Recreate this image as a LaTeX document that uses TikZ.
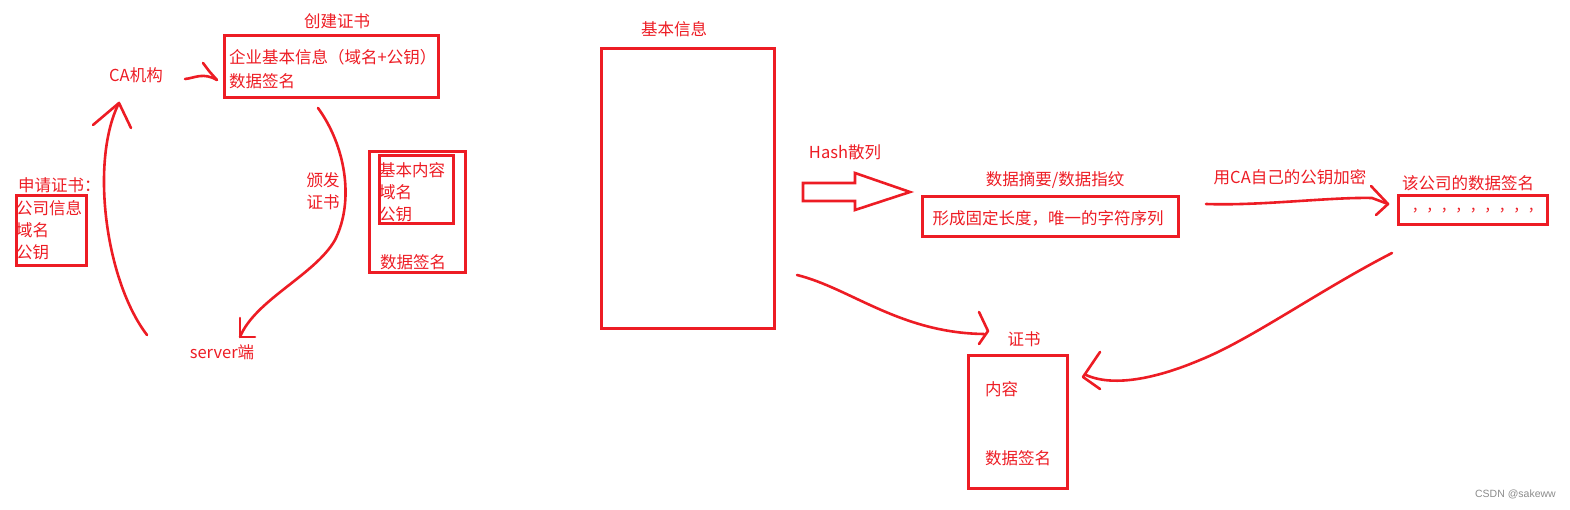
\documentclass[tikz,border=0pt]{standalone}
\usepackage{fontspec}
\setmainfont{Noto Sans CJK SC}
\newfontfamily\wmfont{Liberation Sans}
\definecolor{pred}{RGB}{237,28,36}
\begin{document}
\begin{tikzpicture}[x=1pt,y=-1pt,
  box/.style={draw=pred,line width=3pt,minimum width=#1},
  lbl/.style={text=pred,font=\fontsize{16.5}{17}\selectfont,inner sep=0pt},
  stroke/.style={draw=pred,line width=2.6pt,line cap=round,line join=round}]
\useasboundingbox (0,0) rectangle (1570,510);
% boxes
\node[box=214pt,minimum height=62pt] (b1) at (331,67) {};
\node[box=70pt,minimum height=70pt] (bl) at (51,231) {};
\node[box=96pt,minimum height=121pt] (bro) at (417,212.5) {};
\node[box=74pt,minimum height=68pt] (bri) at (416,190) {};
\node[box=173pt,minimum height=279pt] (info) at (687.5,188.5) {};
\node[box=256pt,minimum height=40pt] (dig) at (1050,217) {};
\node[box=149pt,minimum height=29pt] (sig) at (1472.5,210.5) {};
\node[box=99pt,minimum height=133pt] (cert) at (1017.5,421.5) {};
% texts
\node[lbl] (t1) at (337,21) {创建证书};
\node[lbl,anchor=west] (t2) at (229,57) {企业基本信息（域名+公钥）};
\node[lbl,anchor=west] (t3) at (229,81) {数据签名};
\node[lbl] (ca) at (136,75) {CA机构};
\node[lbl,anchor=west] (t4) at (18,185) {申请证书：};
\node[lbl,anchor=west] (t5) at (16,208) {公司信息};
\node[lbl,anchor=west] (t6) at (16,230) {域名};
\node[lbl,anchor=west] (t7) at (16,252) {公钥};
\node[lbl] (srv) at (222,352) {server端};
\node[lbl] (t8) at (323,180) {颁发};
\node[lbl] (t9) at (323,202) {证书};
\node[lbl,anchor=west] (t10) at (379,170) {基本内容};
\node[lbl,anchor=west] (t11) at (379,192) {域名};
\node[lbl,anchor=west] (t12) at (379,214) {公钥};
\node[lbl,anchor=west] (t13) at (380,262) {数据签名};
\node[lbl] (t14) at (674,29) {基本信息};
\node[lbl] (hash) at (845,152) {Hash散列};
\node[lbl] (t15) at (1055,180) {数据摘要/数据指纹};
\node[lbl] (t16) at (1048,218) {形成固定长度，唯一的字符序列};
\node[lbl] (enc) at (1290,177) {用CA自己的公钥加密};
\node[lbl] (t17) at (1468,183) {该公司的数据签名};
\node[text=pred,font=\fontsize{14.5}{15}\selectfont,inner sep=0pt] (t18) at (1477,211) {，，，，，，，，，};
\node[lbl] (t19) at (1024,339) {证书};
\node[lbl,anchor=west] (t20) at (985,389) {内容};
\node[lbl,anchor=west] (t21) at (985,458) {数据签名};
\node[text=black!45,font=\wmfont\fontsize{10.5}{11}\selectfont,anchor=east,inner sep=0pt] (wm) at (1556,494) {CSDN @sakeww};
% connector coordinates
\coordinate (a1s) at (185,79);
\coordinate (a1e) at (217,80);
\coordinate (a2s) at (147,335);
\coordinate (a2e) at (119,103);
\coordinate (a3s) at (318,108);
\coordinate (a3e) at (240,337);
\coordinate (a4s) at (1206,204);
\coordinate (a4e) at (1388,204);
\coordinate (a5s) at (797,275);
\coordinate (a5e) at (984,334);
\coordinate (a6s) at (1392,253);
\coordinate (a6e) at (1086,375);
% CA -> create
\draw[stroke] (a1s) .. controls (195,78) and (203,72) .. (a1e);
\draw[stroke] (203,63) -- (209,71) -- (a1e);
% server -> CA
\draw[stroke] (a2s) .. controls (105,280) and (90,160) .. (a2e);
\draw[stroke] (93,125) -- (a2e) -- (131,128);
% create -> server
\draw[stroke] (a3s) .. controls (345,145) and (355,200) .. (335,240) .. controls (315,275) and (255,300) .. (a3e);
\draw[stroke] (240,318) -- (a3e) -- (255,337);
% block arrow
\draw[draw=pred,line width=2.6pt,line join=miter] (803,183) -- (855,183) -- (855,173) -- (910,192) -- (855,210) -- (855,201) -- (803,201) -- cycle;
% encrypt arrow
\draw[stroke] (a4s) .. controls (1260,206) and (1330,197) .. (1372,198) -- (a4e);
\draw[stroke] (1371,186) -- (1388,204) -- (1376,215);
% info -> cert
\draw[stroke] (a5s) .. controls (850,288) and (900,333) .. (a5e);
\draw[stroke] (979,312) -- (988,331) -- (979,344);
% sig -> cert
\draw[stroke] (a6s) .. controls (1320,290) and (1250,340) .. (1200,360) .. controls (1160,377) and (1115,388) .. (a6e);
\draw[stroke] (1100,352) -- (1083,377) -- (1100,389);
\end{tikzpicture}
\end{document}
